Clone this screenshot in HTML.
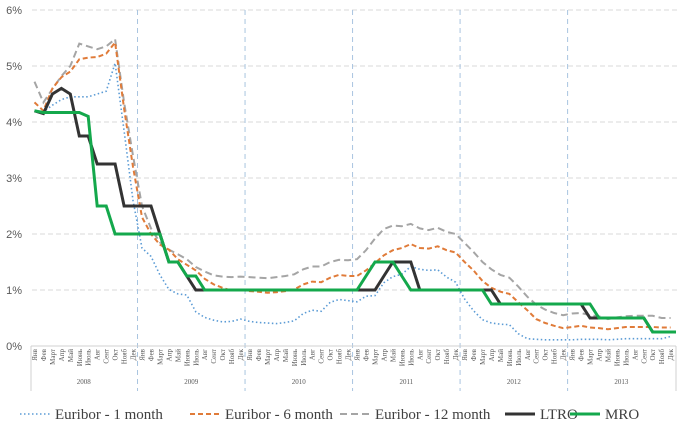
<!DOCTYPE html>
<html><head><meta charset="utf-8"><style>
html,body{margin:0;padding:0;background:#fff;}
svg{display:block;}
</style></head><body>
<svg id="c" width="685" height="437" xmlns="http://www.w3.org/2000/svg" font-family="Liberation Serif, serif"></svg>
<script>
const s=document.getElementById('c');
let h='';
const X=i=>30+(i+0.5)*8.96, Y=v=>346-v*56;
// grid
for(let k=1;k<=6;k++){h+=`<line x1="32" x2="677" y1="${Y(k)}" y2="${Y(k)}" stroke="#d9d9d9" stroke-dasharray="5,3"/>`;}
for(let k=0;k<=6;k++){h+=`<text x="22" y="${Y(k)+4}" font-size="11" fill="#595959" text-anchor="end" font-family="Liberation Sans, sans-serif">${k}%</text>`;}
for(let y=1;y<6;y++){const x=30+y*12*8.96;h+=`<line x1="${x}" x2="${x}" y1="10" y2="391" stroke="#a9c4e0" stroke-dasharray="5,4"/>`;}
h+=`<line x1="31" x2="676" y1="346" y2="346" stroke="#d0d0d0"/>`;
h+=`<line x1="31" x2="31" y1="346" y2="391" stroke="#d0d0d0"/><line x1="676" x2="676" y1="346" y2="391" stroke="#d0d0d0"/>`;
const M=['Янв','Фев','Март','Апр','Май','Июнь','Июль','Авг','Сент','Окт','Нояб','Дек'];
for(let i=0;i<72;i++){h+=`<text transform="translate(${X(i)+2.5},349) rotate(-90)" font-size="7" fill="#595959" text-anchor="end">${M[i%12]}</text>`;}
for(let y=0;y<6;y++){h+=`<text x="${30+(y*12+6)*8.96}" y="384" font-size="7" fill="#595959" text-anchor="middle">${2008+y}</text>`;}
const m1=[4.2,4.18,4.3,4.4,4.45,4.45,4.45,4.5,4.55,5.05,3.84,2.6, 1.75,1.6,1.27,1.01,0.93,0.91,0.61,0.51,0.46,0.43,0.44,0.48, 0.44,0.42,0.41,0.40,0.42,0.45,0.58,0.64,0.62,0.78,0.83,0.81, 0.79,0.89,0.90,1.13,1.24,1.28,1.42,1.37,1.35,1.36,1.23,1.14, 0.84,0.63,0.47,0.41,0.39,0.38,0.22,0.13,0.12,0.11,0.11,0.11, 0.11,0.12,0.12,0.12,0.11,0.12,0.13,0.13,0.13,0.13,0.13,0.17];
const m6=[4.35,4.2,4.6,4.8,4.9,5.12,5.15,5.16,5.22,5.42,4.24,3.2, 2.3,2.0,1.81,1.72,1.55,1.45,1.35,1.2,1.1,1.04,0.99,1.0, 0.98,0.97,0.95,0.96,0.98,1.01,1.1,1.15,1.14,1.22,1.27,1.25, 1.25,1.35,1.48,1.62,1.71,1.75,1.82,1.75,1.74,1.78,1.71,1.67, 1.5,1.35,1.16,1.04,0.97,0.93,0.78,0.64,0.48,0.41,0.36,0.32, 0.34,0.36,0.33,0.32,0.3,0.32,0.34,0.34,0.34,0.34,0.33,0.33];
const m12=[4.72,4.35,4.59,4.82,5.0,5.4,5.35,5.3,5.35,5.48,4.35,3.4, 2.5,2.1,1.85,1.72,1.64,1.55,1.41,1.33,1.26,1.24,1.23,1.24, 1.23,1.22,1.21,1.23,1.25,1.28,1.37,1.42,1.42,1.5,1.54,1.53, 1.55,1.71,1.92,2.09,2.15,2.14,2.18,2.1,2.07,2.11,2.04,2.0, 1.84,1.68,1.5,1.37,1.27,1.22,1.06,0.88,0.74,0.65,0.59,0.55, 0.58,0.59,0.55,0.53,0.48,0.51,0.53,0.54,0.54,0.54,0.5,0.5];
const lt=[4.2,4.15,4.5,4.6,4.5,3.75,3.75,3.25,3.25,3.25,2.5,2.5, 2.5,2.5,2.0,1.5,1.5,1.25,1.0,1.0];
while(lt.length<38)lt.push(1.0);
lt.push(1.0,1.25,1.5,1.5,1.5,1.0);while(lt.length<52)lt.push(1.0);
while(lt.length<62)lt.push(0.75);while(lt.length<69)lt.push(0.5);while(lt.length<72)lt.push(0.25);
const mr=[4.2,4.17,4.17,4.17,4.17,4.17,4.1,2.5,2.5,2.0,2.0,2.0, 2.0,2.0,2.0,1.5,1.5,1.25,1.25,1.0];
while(lt.length>mr.length&&mr.length<37)mr.push(1.0);
mr.push(1.25,1.5,1.5,1.5,1.25,1.0);while(mr.length<51)mr.push(1.0);
while(mr.length<63)mr.push(0.75);while(mr.length<69)mr.push(0.5);while(mr.length<72)mr.push(0.25);
const P=(a,st)=>{let d=a.map((v,i)=>(i?'L':'M')+X(i).toFixed(1)+','+Y(v).toFixed(1)).join('');if(st.includes('ext'))d+='L676,'+Y(a[71]);return `<path d="${d}" fill="none" ${st.replace('ext','')}/>`;};
h+=P(m1,'stroke="#5b9bd5" stroke-width="1.6" stroke-dasharray="1.5,2.5"');
h+=P(m12,'stroke="#a5a5a5" stroke-width="2" stroke-dasharray="7,4"');
h+=P(m6,'stroke="#e07b39" stroke-width="2" stroke-dasharray="5,3"');
h+=P(lt,'stroke="#333333" stroke-width="3" ext');
h+=P(mr,'stroke="#14a84c" stroke-width="3" ext');
// legend
const L=[[20,'Euribor - 1 month','stroke="#5b9bd5" stroke-width="1.6" stroke-dasharray="1.5,2.5"'],[190,'Euribor - 6 month','stroke="#e07b39" stroke-width="2" stroke-dasharray="5,3"'],[340,'Euribor - 12 month','stroke="#a5a5a5" stroke-width="2" stroke-dasharray="7,4"'],[505,'LTRO','stroke="#333" stroke-width="3"'],[570,'MRO','stroke="#14a84c" stroke-width="3"']];
for(const [x,t,st] of L){h+=`<line x1="${x}" x2="${x+30}" y1="414" y2="414" ${st}/><text x="${x+35}" y="419" font-size="15" fill="#404040">${t}</text>`;}
s.innerHTML=h;
</script>
</body></html>
